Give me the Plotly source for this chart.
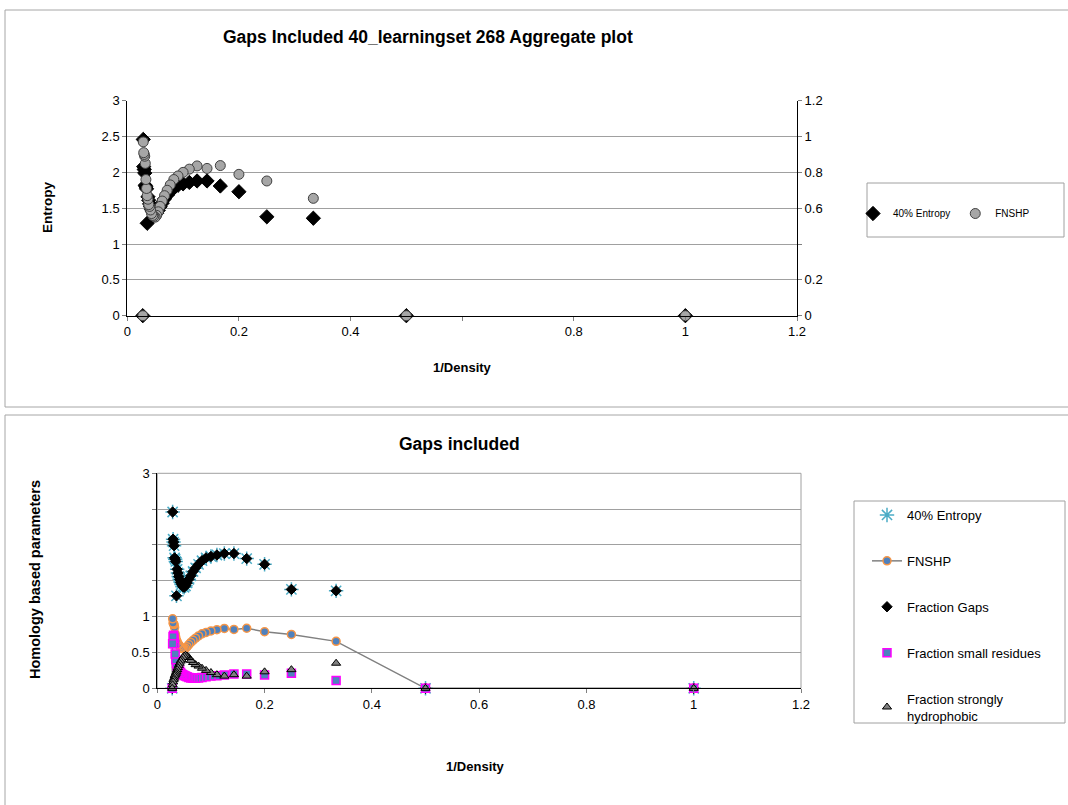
import plotly.graph_objects as go

# ---------------- data ----------------
density = list(range(1, 37))
inv_density = [1.0 / d for d in density]

entropy_40 = [0, 0, 1.36, 1.38, 1.73, 1.81, 1.88, 1.88, 1.86, 1.84,
              1.82, 1.78, 1.73, 1.68, 1.63, 1.57, 1.52, 1.47, 1.43, 1.41,
              1.42, 1.45, 1.48, 1.52, 1.56, 1.61, 1.66, 1.29, 1.77, 1.80,
              1.82, 1.99, 2.04, 2.08, 2.46, 0]
fnshp = [0, 0, 0.655, 0.752, 0.789, 0.838, 0.822, 0.836, 0.818, 0.80,
         0.78, 0.76, 0.73, 0.70, 0.67, 0.64, 0.61, 0.58, 0.56, 0.55,
         0.555, 0.56, 0.57, 0.59, 0.61, 0.62, 0.65, 0.67, 0.71, 0.76,
         0.85, 0.89, 0.90, 0.91, 0.97, 0]
fraction_gaps = [0, 0, 1.36, 1.38, 1.73, 1.81, 1.88, 1.88, 1.86, 1.84,
                 1.82, 1.78, 1.73, 1.68, 1.63, 1.57, 1.52, 1.47, 1.43, 1.41,
                 1.42, 1.45, 1.48, 1.52, 1.56, 1.61, 1.66, 1.29, 1.77, 1.80,
                 1.82, 1.99, 2.04, 2.08, 2.46, 0]
fraction_small = [0, 0, 0.11, 0.21, 0.185, 0.20, 0.20, 0.185, 0.175, 0.17,
                  0.16, 0.15, 0.145, 0.14, 0.14, 0.145, 0.15, 0.16, 0.17, 0.18,
                  0.19, 0.20, 0.22, 0.24, 0.26, 0.28, 0.31, 0.35, 0.40, 0.48,
                  0.62, 0.70, 0.74, 0.72, 0.62, 0]
fraction_hydrophobic = [0, 0, 0.35, 0.26, 0.23, 0.17, 0.19, 0.17, 0.19, 0.22,
                        0.25, 0.28, 0.31, 0.33, 0.36, 0.39, 0.43, 0.45, 0.46, 0.45,
                        0.43, 0.40, 0.38, 0.35, 0.32, 0.29, 0.26, 0.23, 0.21, 0.19,
                        0.17, 0.14, 0.12, 0.09, 0.05, 0]

x_ticks = [0, 0.2, 0.4, 0.6, 0.8, 1.0, 1.2]
x_ticktext_top = ["0", "0.2", "0.4", "", "0.8", "1", "1.2"]
x_ticktext_bottom = ["0", "0.2", "0.4", "0.6", "0.8", "1", "1.2"]
y_ticks = [0, 0.5, 1, 1.5, 2, 2.5, 3]
y_ticktext_top = ["0", "0.5", "1", "1.5", "2", "2.5", "3"]
y_ticktext_bottom = ["0", "0.5", "1", "", "", "", "3"]
y2_ticks = [0, 0.2, 0.4, 0.6, 0.8, 1.0, 1.2]
y2_ticktext = ["0", "0.2", "", "0.6", "0.8", "1", "1.2"]

# ---------------- layout helpers ----------------
W, H = 1068, 805
FONT = "Liberation Sans, Arial, sans-serif"


def fx(px):
    return px / W


def fy(py):
    return 1 - py / H


fig = go.Figure()

# ---- top chart ----
fig.add_trace(go.Scatter(
    x=inv_density, y=entropy_40, mode="markers", name="40% Entropy",
    xaxis="x", yaxis="y", cliponaxis=False, legend="legend",
    marker=dict(symbol="diamond", size=11, color="black",
                line=dict(color="black", width=1))))
fig.add_trace(go.Scatter(
    x=inv_density, y=fnshp, mode="markers", name="FNSHP",
    xaxis="x", yaxis="y2", cliponaxis=False, legend="legend",
    marker=dict(symbol="circle", size=10, color="#A6A6A6",
                line=dict(color="#404040", width=1))))

# ---- bottom chart ----
fig.add_trace(go.Scatter(
    x=inv_density, y=entropy_40, mode="markers", name="40% Entropy",
    xaxis="x2", yaxis="y3", cliponaxis=False, legend="legend2",
    legendgroup="a",
    marker=dict(symbol="asterisk", size=12, color="#4BACC6",
                line=dict(color="#4BACC6", width=1.5))))
fig.add_trace(go.Scatter(
    x=inv_density, y=fnshp, mode="lines+markers", name="FNSHP",
    xaxis="x2", yaxis="y3", cliponaxis=False, legend="legend2",
    legendgroup="b",
    line=dict(color="#808080", width=1.5),
    marker=dict(symbol="circle", size=8, color="#4F81BD",
                line=dict(color="#F79646", width=1.5))))
fig.add_trace(go.Scatter(
    x=inv_density, y=fraction_gaps, mode="markers", name="Fraction Gaps",
    xaxis="x2", yaxis="y3", cliponaxis=False, legend="legend2",
    legendgroup="c",
    marker=dict(symbol="diamond", size=8, color="black",
                line=dict(color="black", width=1))))
fig.add_trace(go.Scatter(
    x=inv_density, y=fraction_small, mode="markers",
    name="Fraction small residues",
    xaxis="x2", yaxis="y3", cliponaxis=False, legend="legend2",
    legendgroup="d",
    marker=dict(symbol="square", size=8, color="#4F81BD",
                line=dict(color="#FF00FF", width=1.5))))
fig.add_trace(go.Scatter(
    x=inv_density, y=fraction_hydrophobic, mode="markers",
    name="Fraction strongly<br>hydrophobic",
    xaxis="x2", yaxis="y3", cliponaxis=False, legend="legend2",
    legendgroup="e",
    marker=dict(symbol="triangle-up", size=8, color="#808080",
                line=dict(color="black", width=1))))

axis_common = dict(
    tickfont=dict(family=FONT, size=13, color="black"),
    showline=True, linecolor="black", linewidth=1,
    ticks="outside", ticklen=4, tickcolor="#808080",
    zeroline=False, fixedrange=True, automargin=False,
)

fig.update_layout(
    width=W, height=H, autosize=False,
    margin=dict(l=0, r=0, t=0, b=0, pad=0),
    paper_bgcolor="white", plot_bgcolor="white",
    font=dict(family=FONT, size=12, color="black"),
    xaxis=dict(domain=[fx(127.3), fx(797)], anchor="y", range=[0, 1.2],
               tickvals=x_ticks, ticktext=x_ticktext_top, showgrid=False,
               **axis_common),
    yaxis=dict(domain=[fy(315.7), fy(100.7)], anchor="x", range=[0, 3],
               tickvals=y_ticks, ticktext=y_ticktext_top, showgrid=True,
               gridcolor="#A0A0A0", gridwidth=1, **axis_common),
    yaxis2=dict(overlaying="y", side="right", anchor="x", range=[0, 1.2],
                tickvals=y2_ticks, ticktext=y2_ticktext, showgrid=False,
                **axis_common),
    xaxis2=dict(domain=[fx(157.3), fx(801)], anchor="y3", range=[0, 1.2],
                tickvals=x_ticks, ticktext=x_ticktext_bottom, showgrid=False,
                **axis_common),
    yaxis3=dict(domain=[fy(688.3), fy(473.3)], anchor="x2", range=[0, 3],
                tickvals=y_ticks, ticktext=y_ticktext_bottom, showgrid=True,
                gridcolor="#A0A0A0", gridwidth=1, **axis_common),
    legend=dict(orientation="h", x=fx(853), y=fy(199), xanchor="left",
                yanchor="top", bgcolor="rgba(0,0,0,0)", borderwidth=0,
                font=dict(family=FONT, size=10, color="black")),
    legend2=dict(orientation="v", x=fx(867), y=fy(500), xanchor="left",
                 yanchor="top", bgcolor="rgba(0,0,0,0)", borderwidth=0,
                 traceorder="grouped", tracegroupgap=26,
                 font=dict(family=FONT, size=13, color="black")),
    showlegend=True,
)


def open_box_path(x0, y0, x1, y1, sides):
    # build an SVG path (paper coords) drawing only the listed sides
    pts = {"top": [(x0, y0), (x1, y0)], "bottom": [(x0, y1), (x1, y1)],
           "left": [(x0, y0), (x0, y1)]}
    segs = []
    for s in sides:
        (a, b), (c, d) = pts[s]
        segs.append(f"M{fx(a)},{fy(b)} L{fx(c)},{fy(d)}")
    return " ".join(segs)


shapes = [
    # outer chart boxes (they run past the right / bottom page edges)
    dict(type="path", xref="paper", yref="paper",
         path=open_box_path(5, 10, 1068, 407, ["top", "bottom", "left"]),
         line=dict(color="#A6A6A6", width=1), layer="below"),
    dict(type="path", xref="paper", yref="paper",
         path=open_box_path(5, 415, 1068, 805, ["top", "left"]),
         line=dict(color="#A6A6A6", width=1), layer="below"),
    # legend boxes
    dict(type="rect", xref="paper", yref="paper", x0=fx(867), x1=fx(1064),
         y0=fy(237), y1=fy(183), line=dict(color="#A0A0A0", width=1)),
    dict(type="rect", xref="paper", yref="paper", x0=fx(854), x1=fx(1065),
         y0=fy(723), y1=fy(501), line=dict(color="#A0A0A0", width=1)),
    # bottom plot-area border
    dict(type="rect", xref="paper", yref="paper", x0=fx(157.3), x1=fx(801),
         y0=fy(688.3), y1=fy(473.3), line=dict(color="#A0A0A0", width=1),
         layer="below"),
]
fig.update_layout(shapes=shapes)

ann = []


def add_text(text, px, py, size=12, bold=True, angle=0):
    ann.append(dict(
        text=f"<b>{text}</b>" if bold else text,
        x=fx(px), y=fy(py), xref="paper", yref="paper",
        showarrow=False, textangle=angle, xanchor="center", yanchor="middle",
        font=dict(family=FONT, size=size, color="black")))


add_text("Gaps Included 40_learningset 268 Aggregate plot", 428, 37, size=17.5)
add_text("Entropy", 47, 208, size=13.5, angle=-90)
add_text("1/Density", 462, 367, size=13)
add_text("Gaps included", 459, 444, size=17.5)
add_text("Homology based parameters", 35, 580, size=14.5, angle=-90)
add_text("1/Density", 475, 766, size=13)
fig.update_layout(annotations=ann)

fig.write_html(
    "out.html",
    config={"displayModeBar": False, "responsive": False},
    post_script="document.body.style.margin='0px';"
                "document.body.style.overflow='hidden';",
)
